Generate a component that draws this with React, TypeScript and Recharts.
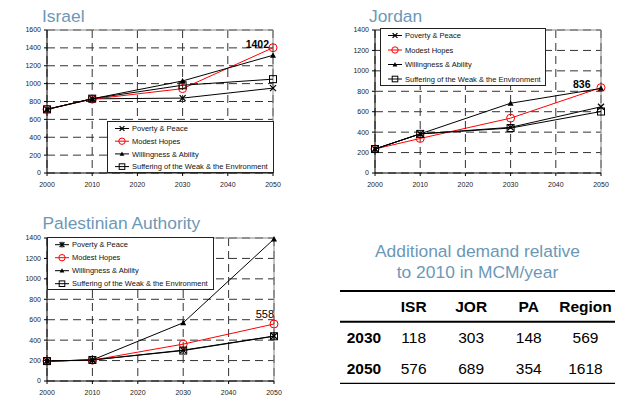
import React from "react";
import {
  LineChart,
  Line,
  XAxis,
  YAxis,
  CartesianGrid,
  ReferenceLine,
  Legend,
} from "recharts";

const YEARS = [2000, 2010, 2030, 2050];
const X_TICKS = [2000, 2010, 2020, 2030, 2040, 2050];
const ISR_TICKS = [0, 200, 400, 600, 800, 1000, 1200, 1400, 1600];
const JOR_PA_TICKS = [0, 200, 400, 600, 800, 1000, 1200, 1400];

const SCENARIOS = [
  "Poverty & Peace",
  "Modest Hopes",
  "Willingness & Ability",
  "Suffering of the Weak & the Environment",
];

const ISR_POVERTY = [712, 830, 838, 950];
const ISR_MODEST = [712, 826, 944, 1402];
const ISR_WILLING = [712, 830, 1030, 1317];
const ISR_SUFFERING = [712, 832, 982, 1050];

const JOR_POVERTY = [235, 383, 447, 648];
const JOR_MODEST = [235, 338, 537, 836];
const JOR_WILLING = [235, 383, 683, 828];
const JOR_SUFFERING = [235, 383, 440, 602];

const PA_POVERTY = [195, 206, 302, 440];
const PA_MODEST = [195, 204, 361, 558];
const PA_WILLING = [195, 206, 570, 1390];
const PA_SUFFERING = [195, 206, 298, 438];

const TABLE_COLS = ["ISR", "JOR", "PA", "Region"];
const TABLE_ROWS = ["2030", "2050"];
const TABLE_2030 = [118, 303, 148, 569];
const TABLE_2050 = [576, 689, 354, 1618];

const FONT = "'Liberation Sans', Arial, sans-serif";
const TITLE_BLUE = "#6b98b8";

const toRows = (p: number[], m: number[], w: number[], s: number[]) =>
  YEARS.map((year, i) => ({
    year,
    poverty: p[i],
    modest: m[i],
    willing: w[i],
    suffering: s[i],
  }));

const SERIES = [
  { key: "poverty", name: SCENARIOS[0], color: "#000", kind: "x" },
  { key: "modest", name: SCENARIOS[1], color: "#ff0000", kind: "circle" },
  { key: "willing", name: SCENARIOS[2], color: "#000", kind: "triangle" },
  { key: "suffering", name: SCENARIOS[3], color: "#000", kind: "square" },
];

function Marker({ kind, cx, cy, asterisk, small }: any) {
  if (cx == null || cy == null) return null;
  const k = small ? 0.8 : 1;
  if (kind === "x") {
    const d = 3 * k;
    return (
      <g stroke="#000" strokeWidth={1.3}>
        <line x1={cx - d} y1={cy - d} x2={cx + d} y2={cy + d} />
        <line x1={cx - d} y1={cy + d} x2={cx + d} y2={cy - d} />
        {asterisk && <line x1={cx} y1={cy - d - 0.5} x2={cx} y2={cy + d + 0.5} />}
      </g>
    );
  }
  if (kind === "circle") {
    return <circle cx={cx} cy={cy} r={4 * k} fill="none" stroke="#ff0000" strokeWidth={1} />;
  }
  if (kind === "triangle") {
    const d = 3 * k;
    return (
      <polygon
        points={`${cx},${cy - d} ${cx - d},${cy + d * 0.8} ${cx + d},${cy + d * 0.8}`}
        fill="#000"
      />
    );
  }
  const h = 3.5 * k;
  return (
    <rect x={cx - h} y={cy - h} width={h * 2} height={h * 2} fill="none" stroke="#000" strokeWidth={1} />
  );
}

function LegendBox({ height, firstRow, rowGap, asterisk }: any) {
  return (
    <div
      style={{
        width: "100%",
        height,
        border: "1px solid #222",
        background: "#fff",
        boxSizing: "border-box",
        position: "relative",
      }}
    >
      <svg width="100%" height={height} style={{ position: "absolute", left: -1, top: -1 }}>
        {SERIES.map((s, i) => {
          const y = firstRow + i * rowGap;
          return (
            <g key={s.key}>
              <line x1={8} x2={22} y1={y} y2={y} stroke={s.color} strokeWidth={1} />
              <Marker kind={s.kind} cx={15} cy={y} asterisk={asterisk} small />
              <text x={25} y={y + 2.7} fontSize={7.5} fontFamily={FONT} fill="#111">
                {s.name}
              </text>
            </g>
          );
        })}
      </svg>
    </div>
  );
}

function RegionChart({ rows, yTicks, width, legend, label, asterisk }: any) {
  const yMax = yTicks[yTicks.length - 1];
  const last = rows.length - 1;
  const tick = { fontSize: 7, fill: "#222", fontFamily: FONT };
  return (
    <LineChart
      width={width}
      height={168}
      data={rows}
      margin={{ top: 10, right: 12, left: 0, bottom: 0 }}
    >
      <CartesianGrid stroke="#333" strokeDasharray="8 5" />
      <XAxis
        dataKey="year"
        type="number"
        domain={[2000, 2050]}
        ticks={X_TICKS}
        interval={0}
        height={15}
        tick={tick}
        tickSize={3}
        tickMargin={6}
        stroke="#000"
      />
      <YAxis
        type="number"
        domain={[0, yMax]}
        ticks={yTicks}
        interval={0}
        width={37}
        tick={tick}
        tickSize={3}
        tickMargin={3}
        stroke="#000"
      />
      <ReferenceLine y={yMax} stroke="#888" />
      <ReferenceLine x={2050} stroke="#888" />
      <Legend
        layout="vertical"
        align="center"
        verticalAlign="middle"
        wrapperStyle={{ left: legend.left, top: legend.top, width: legend.width, height: legend.height }}
        content={() => (
          <LegendBox
            height={legend.height}
            firstRow={legend.firstRow}
            rowGap={legend.rowGap}
            asterisk={asterisk}
          />
        )}
      />
      {SERIES.map((s) => (
        <Line
          key={s.key}
          dataKey={s.key}
          name={s.name}
          type="linear"
          stroke={s.color}
          strokeWidth={1}
          isAnimationActive={false}
          dot={(p: any) => (
            <Marker key={`${s.key}-${p.index}`} kind={s.kind} cx={p.cx} cy={p.cy} asterisk={asterisk} />
          )}
          label={
            s.key === "modest"
              ? (p: any) =>
                  p.index === last ? (
                    <text
                      key="end"
                      x={p.x + label.dx}
                      y={p.y + label.dy}
                      textAnchor="end"
                      fontSize={label.size}
                      fontWeight={label.weight}
                      fontFamily={FONT}
                      fill="#000"
                    >
                      {p.value}
                    </text>
                  ) : (
                    <g key={`l-${p.index}`} />
                  )
              : undefined
          }
        />
      ))}
    </LineChart>
  );
}

const COL_X = [413.7, 471.2, 528.8, 585.5];

export default function App() {
  const isr = toRows(ISR_POVERTY, ISR_MODEST, ISR_WILLING, ISR_SUFFERING);
  const jor = toRows(JOR_POVERTY, JOR_MODEST, JOR_WILLING, JOR_SUFFERING);
  const pa = toRows(PA_POVERTY, PA_MODEST, PA_WILLING, PA_SUFFERING);
  const tableValues = [TABLE_2030, TABLE_2050];
  const rowBase = [343.3, 374];

  return (
    <div
      style={{
        position: "absolute",
        left: 0,
        top: 0,
        width: 621,
        height: 403,
        background: "#fff",
        fontFamily: FONT,
      }}
    >
      <svg width={621} height={403} style={{ position: "absolute", left: 0, top: 0 }}>
        <g fontFamily={FONT} fill={TITLE_BLUE} fontSize={17.4}>
          <text x={42} y={21.7}>Israel</text>
          <text x={369} y={21.7}>Jordan</text>
          <text x={42.5} y={229.3}>Palestinian Authority</text>
        </g>
        <g fontFamily={FONT} fill={TITLE_BLUE} fontSize={17.4} textAnchor="middle">
          <text x={477.5} y={256.7}>Additional demand relative</text>
          <text x={477.5} y={277.7}>to 2010 in MCM/year</text>
        </g>
        <line x1={340} x2={615} y1={291} y2={291} stroke="#000" strokeWidth={2} />
        <line x1={340} x2={615} y1={321.7} y2={321.7} stroke="#000" strokeWidth={2} />
        <line x1={340} x2={615} y1={383.3} y2={383.3} stroke="#000" strokeWidth={1.3} />
        <g fontFamily={FONT} fontSize={15.5} fill="#000">
          {TABLE_COLS.map((c, i) => (
            <text key={c} x={COL_X[i]} y={312.3} textAnchor="middle" fontWeight="bold">
              {c}
            </text>
          ))}
          {TABLE_ROWS.map((r, ri) => (
            <g key={r}>
              <text x={346.7} y={rowBase[ri]} fontWeight="bold">
                {r}
              </text>
              {tableValues[ri].map((v, i) => (
                <text key={i} x={COL_X[i]} y={rowBase[ri]} textAnchor="middle">
                  {v}
                </text>
              ))}
            </g>
          ))}
        </g>
      </svg>

      <div style={{ position: "absolute", left: 10, top: 20 }}>
        <RegionChart
          rows={isr}
          yTicks={ISR_TICKS}
          width={275}
          legend={{ left: 97, top: 101, width: 167, height: 52, firstRow: 7.5, rowGap: 12.7 }}
          label={{ dx: -4, dy: 0, size: 10.5, weight: "bold" }}
        />
      </div>
      <div style={{ position: "absolute", left: 338, top: 20 }}>
        <RegionChart
          rows={jor}
          yTicks={JOR_PA_TICKS}
          width={275}
          legend={{ left: 42, top: 8.3, width: 166, height: 58, firstRow: 7.5, rowGap: 14.5 }}
          label={{ dx: -10.5, dy: 0, size: 10.5, weight: "bold" }}
        />
      </div>
      <div style={{ position: "absolute", left: 10, top: 228 }}>
        <RegionChart
          rows={pa}
          yTicks={JOR_PA_TICKS}
          width={276}
          legend={{ left: 37, top: 8.7, width: 167, height: 53.5, firstRow: 7.7, rowGap: 13 }}
          label={{ dx: 0, dy: -6, size: 11, weight: "normal" }}
          asterisk
        />
      </div>
    </div>
  );
}
